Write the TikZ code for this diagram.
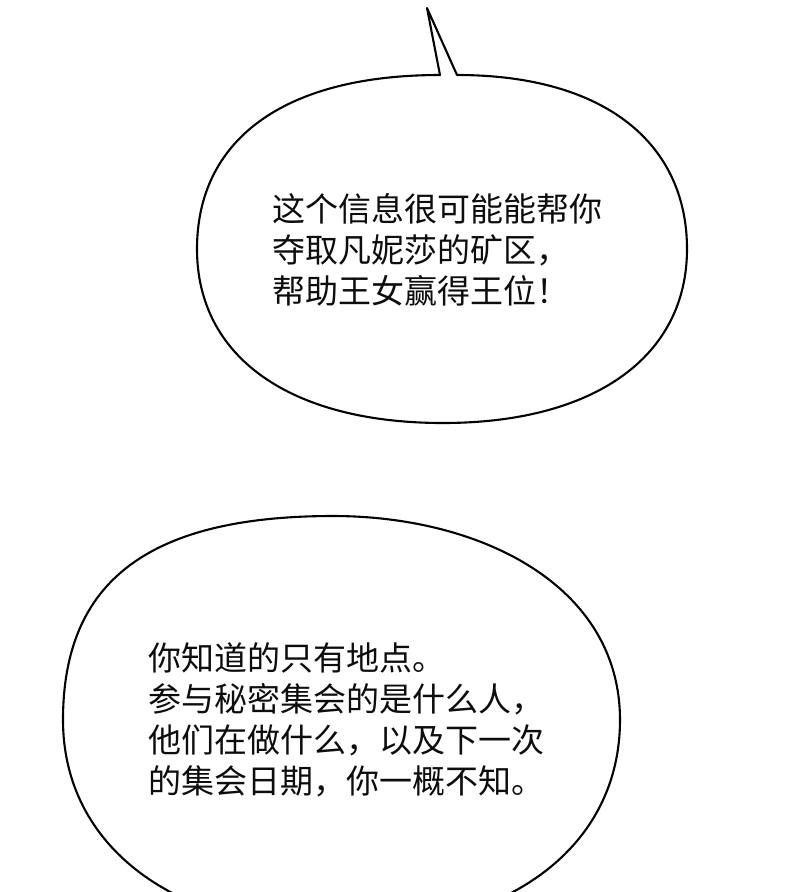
\documentclass[tikz,border=0pt]{standalone}
\usepackage{fontspec}
\newfontfamily\cjk{Noto Sans CJK SC}
\usetikzlibrary{positioning}

\begin{document}
\begin{tikzpicture}[x=1pt,y=-1pt,line join=round,
    bubble/.style={draw=black,line width=2.1pt,fill=white},
    speech/.style={font=\cjk\fontsize{33}{41}\selectfont,align=left,inner sep=0pt,anchor=west,text=black!95}]

\useasboundingbox (0,0) rectangle (800,892);
\clip (0,0) rectangle (800,892);

% upper bubble with its tail
\draw[bubble] (457,75) .. controls (607,75) and (687,145) .. (687,249)
  .. controls (687,357) and (594,423) .. (443,423)
  .. controls (290,423) and (197,357) .. (197,249)
  .. controls (197,141) and (282,75) .. (440,75) -- (427,8) -- cycle;

% lower bubble, cut by the page edge
\draw[bubble] (333,516) .. controls (480,516) and (620,585) .. (620,720)
  .. controls (620,846) and (510,930) .. (341,930)
  .. controls (174,930) and (63,846) .. (63,720)
  .. controls (63,581) and (149,516) .. (333,516) -- cycle;

\node[speech] (info)   at (272,250) {这个信息很可能能帮你\\夺取凡妮莎的矿区，\\帮助王女赢得王位！};
\node[speech] (secret) at (148,720) {你知道的只有地点。\\参与秘密集会的是什么人，\\他们在做什么，以及下一次\\的集会日期，你一概不知。};
\end{tikzpicture}
\end{document}
